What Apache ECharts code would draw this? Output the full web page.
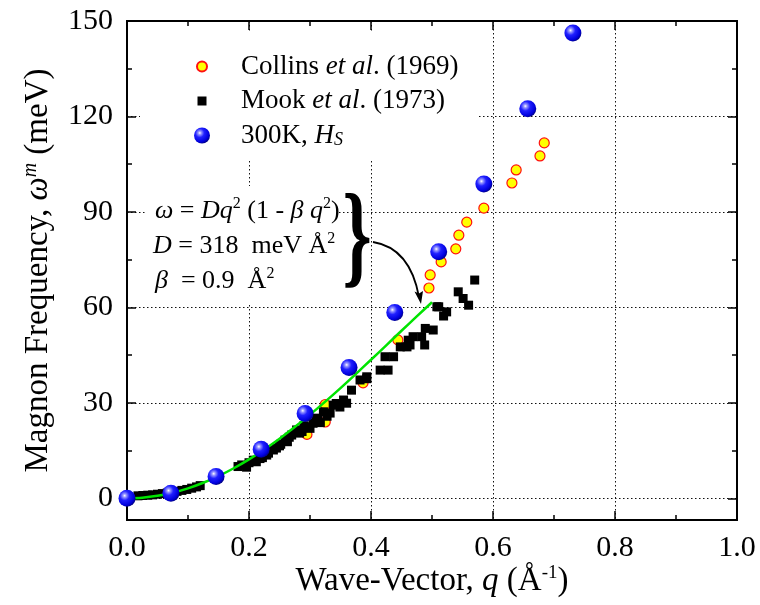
<!DOCTYPE html>
<html>
<head>
<meta charset="utf-8">
<script src="https://cdn.jsdelivr.net/npm/echarts@6/dist/echarts.min.js"></script>
<style>
html,body{margin:0;padding:0;background:#fff;}
#chart{width:760px;height:605px;}
</style>
</head>
<body>
<div id="chart"></div>
<script>
// ---- data ----
const xTicks = [0, 0.2, 0.4, 0.6, 0.8, 1.0];
const yMajorTicks = [0, 30, 60, 90, 120, 150];
const yMinorTicks = [15, 45, 75, 105, 135];

const collinsQ = [0.295, 0.325, 0.325, 0.387, 0.444, 0.495, 0.497, 0.515, 0.539, 0.544, 0.557, 0.585, 0.631, 0.638, 0.677, 0.684];
const collinsW = [20.1, 24.0, 29.5, 36.3, 49.8, 66.1, 70.2, 74.3, 78.4, 82.7, 86.8, 91.2, 99.1, 103.2, 107.6, 111.7];

const mookQ = [0.018, 0.026, 0.034, 0.042, 0.05, 0.058, 0.066, 0.074, 0.082, 0.09, 0.098, 0.106, 0.114, 0.12,
  0.182, 0.188, 0.196, 0.2, 0.207, 0.212, 0.218, 0.222, 0.229, 0.232, 0.24, 0.245, 0.25, 0.252, 0.259, 0.263, 0.266,
  0.27, 0.278, 0.283, 0.287, 0.29, 0.295, 0.3, 0.305, 0.31, 0.313, 0.317, 0.322, 0.328, 0.333, 0.338, 0.343, 0.349,
  0.355, 0.36, 0.368, 0.382, 0.393, 0.393,
  0.415, 0.428, 0.423, 0.437, 0.448, 0.459, 0.461, 0.464, 0.469, 0.483, 0.488, 0.489,
  0.502, 0.508, 0.511, 0.519, 0.524, 0.543, 0.551, 0.56, 0.57];
const mookW = [0.8, 0.9, 1.0, 1.1, 1.3, 1.5, 1.7, 1.9, 2.2, 2.5, 2.8, 3.2, 3.6, 4.0,
  10.0, 10.5, 9.8, 11.2, 12.0, 11.5, 12.5, 12.8, 13.6, 14.2, 15.2, 15.8, 16.5, 17.0, 18.3, 17.8, 19.2,
  19.9, 21.5, 20.5, 21.0, 22.8, 22.5, 22.0, 23.6, 25.2, 24.6, 23.8, 27.2, 25.8, 26.8, 29.3, 29.8, 28.7,
  30.9, 29.9, 34.0, 37.2, 38.2, 37.6,
  40.3, 40.3, 44.5, 44.5, 47.6, 47.6, 49.7, 48.2, 50.8, 50.8, 48.2, 53.4,
  52.9, 60.2, 60.2, 57.3, 58.6, 64.9, 62.8, 60.7, 68.6];

const hsQ = [0.0, 0.072, 0.146, 0.220, 0.292, 0.364, 0.439, 0.511, 0.585, 0.657, 0.731];
const hsW = [0.0, 1.6, 6.9, 15.4, 26.7, 41.1, 58.4, 77.5, 98.8, 122.4, 146.2];

const fitQ = [0, 0.025, 0.05, 0.075, 0.1, 0.125, 0.15, 0.175, 0.2, 0.225, 0.25, 0.275, 0.3, 0.325, 0.35, 0.375, 0.4, 0.425, 0.45, 0.475, 0.5];
const fitW = [0, 0.2, 0.79, 1.78, 3.15, 4.9, 7.01, 9.47, 12.26, 15.37, 18.76, 22.41, 26.3, 30.4, 34.66, 39.06, 43.55, 48.1, 52.66, 57.18, 61.61];

const seriesNames = ['Collins', 'Mook', '300K'];
const legendLabels = {
  'Collins': '{n|Collins }{i|et al}{n|. (1969)}{sub| }',
  'Mook': '{n|Mook }{i|et al}{n|. (1973)}{sub| }',
  '300K': '{n|300K, }{i|H}{sub|S}'
};

// ---- chart ----
const FONT = '"Liberation Serif", "Times New Roman", serif';
const zip = (a, b) => a.map((v, i) => [v, b[i]]);

const chart = echarts.init(document.getElementById('chart'), null, {renderer: 'canvas'});

const dotted = {show: true, lineStyle: {color: '#111', width: 1, type: [1.5, 2.5]}};

function yAx(opts) {
  return Object.assign({
    type: 'value', min: -6.8, max: 150, gridIndex: 0,
    axisLine: {show: true, onZero: false, lineStyle: {color: '#000', width: 2}},
    axisLabel: {show: false},
    splitLine: {show: false},
    minorTick: {show: false}
  }, opts);
}

const sphere = {
  type: 'radial', x: 0.36, y: 0.34, r: 0.7,
  colorStops: [
    {offset: 0, color: '#ffffff'},
    {offset: 0.14, color: '#9a9aff'},
    {offset: 0.4, color: '#2020ff'},
    {offset: 0.8, color: '#0000dd'},
    {offset: 1, color: '#000080'}
  ]
};

const option = {
  animation: false,
  backgroundColor: '#fff',
  grid: {left: 127, right: 23, top: 21, bottom: 85, containLabel: false, outerBoundsMode: 'none'},
  legend: {
    left: 140, top: 33, orient: 'vertical',
    padding: [8.5, 16, 10, 53],
    backgroundColor: '#fff',
    itemWidth: 68, itemHeight: 16, itemGap: -4.5,
    symbolKeepAspect: true,
    data: [
      {name: 'Collins', icon: 'path://M0,0M16,16M3,8A5,5,0,1,0,13,8A5,5,0,1,0,3,8Z'},
      {name: 'Mook', icon: 'path://M0,0M16,16M3.5,3.5L12.5,3.5L12.5,12.5L3.5,12.5Z'},
      {name: '300K', icon: 'circle'}
    ],
    formatter: name => legendLabels[name],
    textStyle: {
      color: '#000', fontFamily: FONT, fontSize: 27, lineHeight: 28,
      rich: {
        n: {fontFamily: FONT, fontSize: 27, lineHeight: 28, color: '#000', verticalAlign: 'middle'},
        i: {fontFamily: FONT, fontSize: 27, lineHeight: 28, fontStyle: 'italic', color: '#000', verticalAlign: 'middle'},
        sub: {fontFamily: FONT, fontSize: 18, lineHeight: 18, fontStyle: 'italic', color: '#000', verticalAlign: 'bottom', padding: [21, 0, 0, 0]}
      }
    }
  },
  xAxis: [
    {
      type: 'value', min: 0, max: 1, interval: 0.2, position: 'bottom',
      axisLine: {show: true, onZero: false, lineStyle: {color: '#000', width: 2}},
      axisTick: {show: true, inside: true, length: 9, lineStyle: {color: '#000', width: 1.5}},
      minorTick: {show: true, splitNumber: 2, length: 5, lineStyle: {color: '#000', width: 1.5}},
      axisLabel: {show: true, margin: 13, color: '#000', fontFamily: FONT, fontSize: 30,
        formatter: v => v.toFixed(1)},
      splitLine: dotted,
      name: '{n|Wave-Vector, }{i|q}{n| (Å}{sup|-1}{n|)}',
      nameLocation: 'middle', nameGap: 44, nameMoveOverlap: false,
      nameTextStyle: {
        color: '#000', fontFamily: FONT, fontSize: 33,
        rich: {
          n: {fontFamily: FONT, fontSize: 33, lineHeight: 34, color: '#000'},
          i: {fontFamily: FONT, fontSize: 33, lineHeight: 34, fontStyle: 'italic', color: '#000'},
          sup: {fontFamily: FONT, fontSize: 19, lineHeight: 19, color: '#000', verticalAlign: 'top'}
        }
      }
    },
    {
      type: 'value', min: 0, max: 1, interval: 0.2, position: 'top',
      axisLine: {show: true, onZero: false, lineStyle: {color: '#000', width: 2}},
      axisTick: {show: true, inside: true, length: 9, lineStyle: {color: '#000', width: 1.5}},
      minorTick: {show: true, splitNumber: 2, length: 5, lineStyle: {color: '#000', width: 1.5}},
      axisLabel: {show: false},
      splitLine: {show: false}
    }
  ],
  yAxis: [
    yAx({
      position: 'left',
      axisTick: {show: true, inside: true, length: 9, customValues: yMajorTicks, lineStyle: {color: '#000', width: 1.5}},
      axisLabel: {show: true, customValues: yMajorTicks, margin: 14, color: '#000', fontFamily: FONT, fontSize: 30},
      splitLine: dotted,
      name: '{n|Magnon Frequency, }{i|ω}{sup|m}{n| (meV)}',
      nameLocation: 'middle', nameGap: 72, nameRotate: 90, nameMoveOverlap: false,
      nameTextStyle: {
        color: '#000', fontFamily: FONT, fontSize: 33,
        rich: {
          n: {fontFamily: FONT, fontSize: 33, lineHeight: 34, color: '#000'},
          i: {fontFamily: FONT, fontSize: 33, lineHeight: 34, fontStyle: 'italic', color: '#000'},
          sup: {fontFamily: FONT, fontSize: 20, lineHeight: 20, fontStyle: 'italic', color: '#000', verticalAlign: 'top'}
        }
      }
    }),
    yAx({
      position: 'left',
      axisTick: {show: true, inside: true, length: 5, customValues: yMinorTicks, lineStyle: {color: '#000', width: 1.5}}
    }),
    yAx({
      position: 'right',
      axisTick: {show: true, inside: true, length: 9, customValues: yMajorTicks, lineStyle: {color: '#000', width: 1.5}}
    }),
    yAx({
      position: 'right',
      axisTick: {show: true, inside: true, length: 5, customValues: yMinorTicks, lineStyle: {color: '#000', width: 1.5}}
    })
  ],
  series: [
    {
      name: seriesNames[0], type: 'scatter', xAxisIndex: 0, yAxisIndex: 0, z: 2,
      symbol: 'circle', symbolSize: 10,
      itemStyle: {color: '#ffff00', borderColor: '#ff1010', borderWidth: 1.2, opacity: 1},
      data: zip(collinsQ, collinsW)
    },
    {
      name: seriesNames[1], type: 'scatter', xAxisIndex: 0, yAxisIndex: 0, z: 3,
      symbol: 'rect', symbolSize: 9,
      itemStyle: {color: '#000', opacity: 1},
      data: zip(mookQ, mookW)
    },
    {
      name: 'fit', type: 'line', xAxisIndex: 0, yAxisIndex: 0, z: 4,
      showSymbol: false, symbol: 'none', smooth: 0.3,
      lineStyle: {color: '#00e400', width: 2.5},
      data: zip(fitQ, fitW)
    },
    {
      name: seriesNames[2], type: 'scatter', xAxisIndex: 0, yAxisIndex: 0, z: 5,
      symbol: 'circle', symbolSize: 17,
      itemStyle: {color: sphere, opacity: 1},
      data: zip(hsQ, hsW)
    }
  ],
  graphic: [
    {type: 'rect', z: 1, shape: {x: 147, y: 186, width: 190, height: 118}, style: {fill: '#fff'}},
    {
      type: 'text', z: 10, x: 155, y: 211,
      style: {
        text: '{i|ω}{n| = }{i|Dq}{sup|2}{n| (1 - }{i|β q}{sup|2}{n|)}',
        align: 'left', verticalAlign: 'middle',
        rich: {
          n: {font: '26px ' + FONT, fill: '#000', lineHeight: 30},
          i: {font: 'italic 26px ' + FONT, fill: '#000', lineHeight: 30},
          sup: {font: '16px ' + FONT, fill: '#000', lineHeight: 16, verticalAlign: 'top'}
        }
      }
    },
    {
      type: 'text', z: 10, x: 153, y: 246,
      style: {
        text: '{i|D}{n| = 318  meV Å}{sup|2}',
        align: 'left', verticalAlign: 'middle',
        rich: {
          n: {font: '26px ' + FONT, fill: '#000', lineHeight: 30},
          i: {font: 'italic 26px ' + FONT, fill: '#000', lineHeight: 30},
          sup: {font: '16px ' + FONT, fill: '#000', lineHeight: 16, verticalAlign: 'top'}
        }
      }
    },
    {
      type: 'text', z: 10, x: 155, y: 281,
      style: {
        text: '{i|β}{n|  = 0.9  Å}{sup|2}',
        align: 'left', verticalAlign: 'middle',
        rich: {
          n: {font: '26px ' + FONT, fill: '#000', lineHeight: 30},
          i: {font: 'italic 26px ' + FONT, fill: '#000', lineHeight: 30},
          sup: {font: '16px ' + FONT, fill: '#000', lineHeight: 16, verticalAlign: 'top'}
        }
      }
    },
    {
      type: 'text', z: 10, x: 357, y: 244, scaleX: 0.65, originX: 0, originY: 0,
      style: {text: '}', font: 'bold 114px ' + FONT, fill: '#000', align: 'center', verticalAlign: 'middle'}
    },
    {
      type: 'bezierCurve', z: 10,
      shape: {x1: 373, y1: 242, x2: 419, y2: 297, cpx1: 410, cpy1: 248},
      style: {stroke: '#000', lineWidth: 1.8, fill: null}
    },
    {
      type: 'polygon', z: 10,
      shape: {points: [[421, 304], [414.5, 291.5], [419, 293.5], [423, 291]]},
      style: {fill: '#000'}
    }
  ]
};
chart.setOption(option);
</script>
</body>
</html>
